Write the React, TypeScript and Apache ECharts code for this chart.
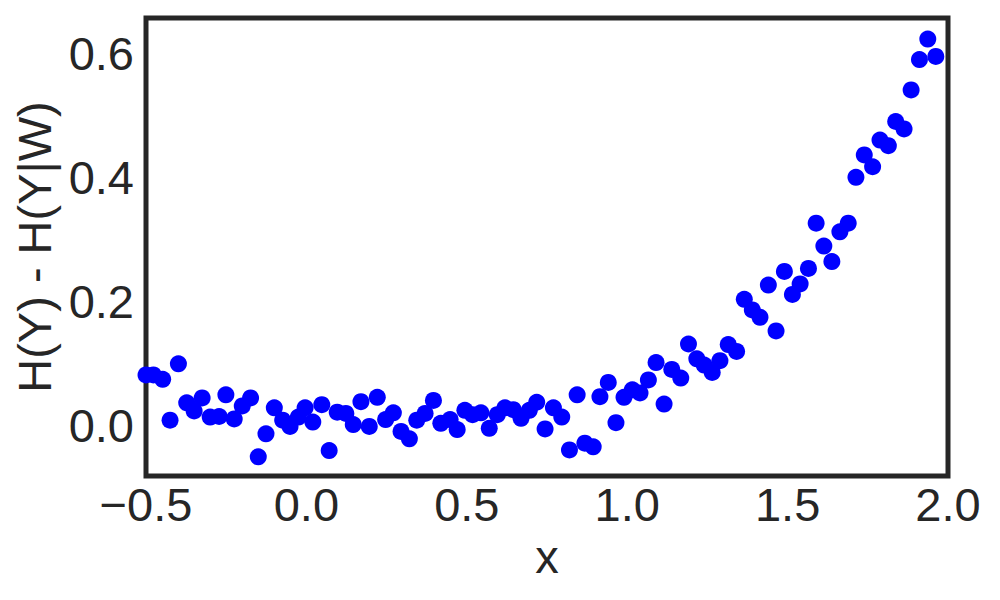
import React, { useEffect, useRef } from "react";
import * as echarts from "echarts";

const xValues: number[] = [
  -0.5, -0.477, -0.448, -0.425, -0.399, -0.373, -0.35, -0.325, -0.3, -0.272,
  -0.251, -0.225, -0.2, -0.174, -0.15, -0.126, -0.1, -0.074, -0.051, -0.025,
  -0.004, 0.02, 0.048, 0.071, 0.096, 0.123, 0.146, 0.17, 0.196, 0.221,
  0.247, 0.271, 0.295, 0.321, 0.344, 0.37, 0.396, 0.419, 0.448, 0.47,
  0.494, 0.518, 0.544, 0.57, 0.595, 0.619, 0.645, 0.669, 0.695, 0.718,
  0.744, 0.77, 0.796, 0.82, 0.844, 0.868, 0.894, 0.915, 0.941, 0.965,
  0.99, 1.016, 1.04, 1.066, 1.09, 1.115, 1.139, 1.167, 1.191, 1.217,
  1.24, 1.265, 1.289, 1.315, 1.341, 1.365, 1.39, 1.414, 1.44, 1.464,
  1.49, 1.515, 1.539, 1.565, 1.589, 1.613, 1.638, 1.663, 1.689, 1.713,
  1.739, 1.765, 1.788, 1.814, 1.837, 1.863, 1.885, 1.911, 1.937, 1.962,
];

const yValues: number[] = [
  0.082, 0.082, 0.075, 0.009, 0.1, 0.037, 0.024, 0.045, 0.014, 0.015,
  0.05, 0.011, 0.032, 0.045, -0.05, -0.013, 0.029, 0.009, -0.001, 0.014,
  0.029, 0.006, 0.034, -0.04, 0.022, 0.02, 0.002, 0.039, -0.001, 0.046,
  0.01, 0.021, -0.009, -0.021, 0.009, 0.02, 0.041, 0.004, 0.01, -0.006,
  0.025, 0.018, 0.021, -0.004, 0.018, 0.029, 0.026, 0.012, 0.025, 0.038,
  -0.005, 0.029, 0.014, -0.039, 0.05, -0.028, -0.034, 0.047, 0.07, 0.005,
  0.046, 0.058, 0.053, 0.074, 0.102, 0.035, 0.091, 0.077, 0.132, 0.108,
  0.098, 0.086, 0.105, 0.131, 0.12, 0.204, 0.187, 0.175, 0.227, 0.153,
  0.249, 0.212, 0.229, 0.254, 0.327, 0.29, 0.265, 0.313, 0.327, 0.401,
  0.437, 0.418, 0.461, 0.452, 0.491, 0.479, 0.542, 0.591, 0.624, 0.596,
];

const xTickLabels: number[] = [-0.5, 0, 0.5, 1, 1.5, 2];
const yTickLabels: number[] = [0, 0.2, 0.4, 0.6];

const X_MIN = -0.5;
const X_MAX = 2.0;
const Y_MIN = -0.081;
const Y_MAX = 0.658;

const TEXT_COLOR = "#262626";
const FONT = "'Liberation Sans', Arial, sans-serif";

function fmt(v: number): string {
  const s = Math.abs(v).toFixed(1);
  return v < -1e-9 ? "\u2212" + s : s;
}

export default function App() {
  const ref = useRef<HTMLDivElement>(null);

  useEffect(() => {
    if (!ref.current) return;
    const chart = echarts.init(ref.current, undefined, { renderer: "svg" });
    const points = xValues.map((x, i) => [x, yValues[i]]);
    const near = (v: number, list: number[]) => list.some((t) => Math.abs(t - v) < 1e-6);

    chart.setOption({
      animation: false,
      backgroundColor: "#ffffff",
      textStyle: { fontFamily: FONT },
      grid: {
        left: 146,
        top: 18,
        width: 802,
        height: 458,
        show: true,
        borderColor: TEXT_COLOR,
        borderWidth: 5,
        backgroundColor: "#ffffff",
        containLabel: false,
      },
      xAxis: {
        type: "value",
        min: X_MIN,
        max: X_MAX,
        interval: 0.5,
        name: "x",
        nameLocation: "middle",
        nameGap: 56,
        nameTextStyle: { color: TEXT_COLOR, fontSize: 47, fontFamily: FONT },
        axisLine: { show: false },
        axisTick: { show: false },
        splitLine: { show: false },
        axisLabel: {
          color: TEXT_COLOR,
          fontSize: 47,
          fontFamily: FONT,
          margin: 5,
          formatter: (v: number) => (near(v, xTickLabels) ? fmt(v) : ""),
        },
      },
      yAxis: {
        type: "value",
        min: Y_MIN,
        max: Y_MAX,
        splitNumber: 4,
        name: "H(Y) - H(Y|W)",
        nameLocation: "middle",
        nameGap: 87,
        nameTextStyle: { color: TEXT_COLOR, fontSize: 47, fontFamily: FONT },
        axisLine: { show: false },
        axisTick: { show: false },
        splitLine: { show: false },
        axisLabel: {
          color: TEXT_COLOR,
          fontSize: 47,
          fontFamily: FONT,
          margin: 12,
          showMinLabel: false,
          showMaxLabel: false,
          formatter: (v: number) => (near(v, yTickLabels) ? fmt(v) : ""),
        },
      },
      series: [
        {
          type: "scatter",
          data: points,
          symbol: "circle",
          symbolSize: 17,
          clip: true,
          itemStyle: { color: "#0000ff", opacity: 1 },
          emphasis: { disabled: true },
        },
      ],
    });

    return () => {
      chart.dispose();
    };
  }, []);

  return (
    <div
      ref={ref}
      style={{ position: "absolute", left: 0, top: 0, width: 1000, height: 600 }}
    />
  );
}
